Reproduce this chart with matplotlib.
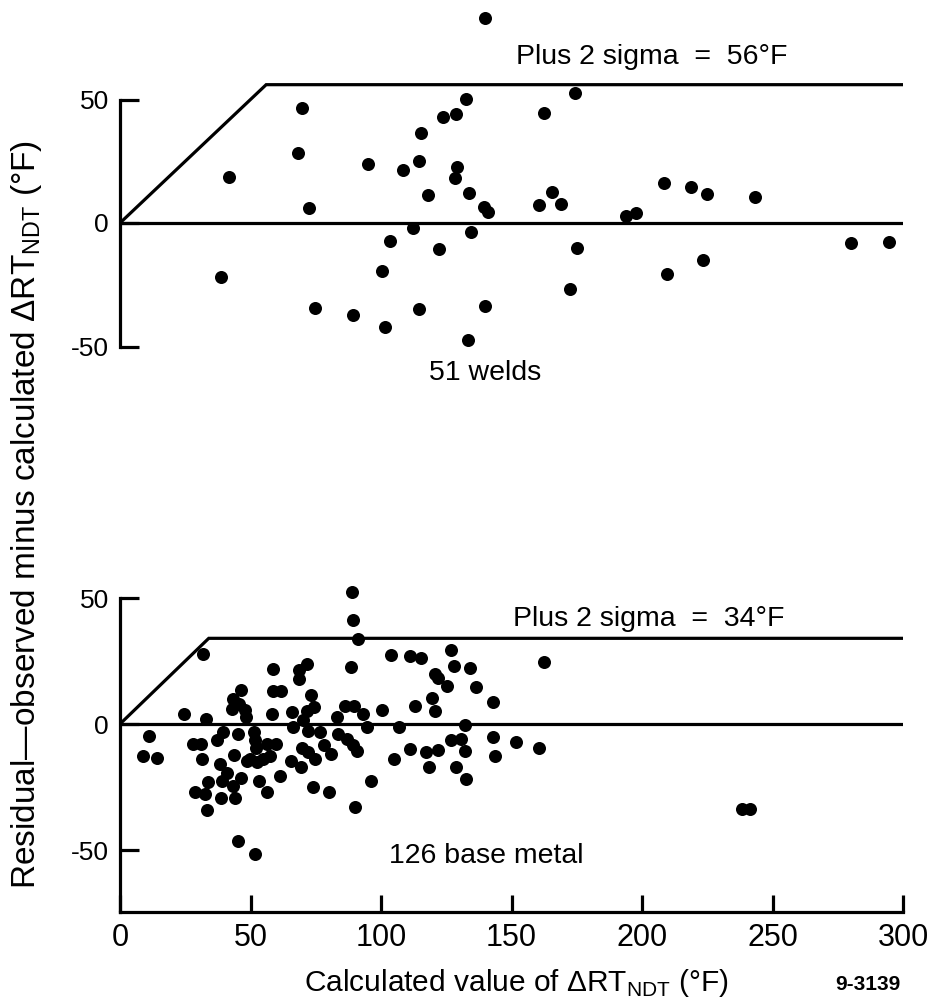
import matplotlib
matplotlib.use("Agg")
import matplotlib.pyplot as plt
from matplotlib import font_manager

# ---------------- data ----------------
# Top panel: 51 welds
weld_x = [139.8, 69.7, 132.6, 128.7, 123.7, 115.2, 68.2, 41.8, 95.0, 108.4,
          114.6, 129.1, 128.4, 118.0, 133.7, 72.4, 139.5, 141.0, 112.3, 134.5,
          103.4, 122.2, 100.4, 38.7, 74.7, 89.3, 114.6, 139.8, 101.5, 133.3,
          174.3, 162.5, 208.4, 218.8, 224.9, 243.3, 160.5, 165.5, 169.0, 193.9,
          197.7, 175.1, 223.4, 209.6, 172.4, 280.1, 294.6]
weld_y = [83.0, 46.6, 50.2, 44.1, 42.9, 36.4, 28.3, 18.6, 23.9, 21.5,
          25.1, 22.7, 18.2, 11.3, 12.1, 6.1, 6.5, 4.5, -2.0, -3.6,
          -7.3, -10.5, -19.4, -22.0, -34.6, -37.2, -34.9, -33.6, -42.1, -47.4,
          52.6, 44.5, 16.2, 14.6, 11.7, 10.5, 7.3, 12.6, 7.7, 2.8,
          4.0, -10.1, -15.0, -20.6, -26.7, -8.2, -7.5]

# Bottom panel: 126 base metal
base_x = [11.1, 9.0, 14.1,
          24.5, 31.9, 33.0,
          28.1, 31.0, 31.3, 33.8, 28.7, 32.6, 33.2,
          37.0, 39.5, 38.3, 40.9, 39.0, 38.6,
          42.8, 43.4, 46.3, 45.5, 48.0, 48.3, 45.3, 43.6, 46.5, 43.4, 44.1, 48.5, 45.3,
          51.5, 51.7, 52.0, 49.8, 52.4, 54.9, 53.3, 56.5, 51.7, 56.5, 57.5,
          58.7, 58.7, 61.5, 58.1, 59.7, 61.3,
          66.0, 66.4, 68.5, 71.8, 68.7, 65.5, 69.3, 69.6, 70.3,
          73.1, 71.5, 74.4, 72.1, 76.6, 72.2, 74.8, 74.1,
          78.2, 80.8, 80.0,
          83.0, 83.6, 86.9, 89.1, 90.7, 86.2, 89.7, 93.1, 94.8, 88.8, 89.2, 91.3, 88.6, 96.3, 90.0,
          100.2, 103.9, 104.8, 106.9,
          111.1, 115.4, 112.9, 111.1, 117.2, 121.8, 118.4, 120.6, 122.0, 125.1, 119.5, 120.5,
          127.0, 128.1, 134.0, 136.5, 132.1, 126.9, 130.5, 132.2, 128.7, 132.6,
          143.0, 143.0, 143.6, 151.7, 160.5, 162.6, 238.5, 241.5]
base_y = [-4.6, -12.5, -13.3,
          4.0, 27.8, 2.0,
          -7.9, -7.9, -13.9, -23.1, -26.9, -27.8, -34.0,
          -6.3, -3.0, -15.9, -19.5, -22.5, -29.3,
          6.0, 9.9, 13.5, 8.0, 5.5, 2.8, -4.0, -12.3, -21.5, -24.5, -29.4, -14.5, -46.6,
          -3.0, -6.5, -9.5, -13.9, -15.0, -13.9, -22.5, -26.8, -51.6, -7.9, -12.6,
          21.8, 13.2, 13.2, 4.0, -7.9, -20.5,
          4.8, -1.3, 21.5, 23.8, 17.9, -14.5, -17.0, -9.6, 1.6,
          11.6, 5.3, 6.6, -2.6, -3.3, -11.2, -13.9, -25.1,
          -8.2, -12.0, -27.1,
          2.6, -4.0, -6.0, -8.2, -10.6, 7.3, 7.1, 4.0, -1.3, 52.3, 41.1, 33.8, 22.5, -22.5, -33.1,
          5.4, 27.2, -13.9, -1.0,
          27.1, 26.2, 7.3, -9.9, -11.1, -10.4, -17.2, 19.8, 18.1, 15.0, 10.2, 5.1,
          29.4, 23.1, 22.1, 14.6, -0.3, -6.3, -6.1, -10.9, -17.2, -21.7,
          8.9, -5.3, -12.6, -7.3, -9.5, 24.7, -33.8, -33.8]

# envelope lines (plus 2 sigma) and zero lines
weld_sigma = 56
base_sigma = 34
x_max = 300
xticks = [0, 50, 100, 150, 200, 250, 300]
yticks = [-50, 0, 50]

# ---------------- fonts ----------------
names = {f.name for f in font_manager.fontManager.ttflist}
FONT = "Liberation Sans" if "Liberation Sans" in names else "DejaVu Sans"
plt.rcParams["font.family"] = [FONT, "DejaVu Sans"]
plt.rcParams["mathtext.fontset"] = "custom"
plt.rcParams["mathtext.rm"] = FONT

W, H = 928, 1001
fig = plt.figure(figsize=(W / 100, H / 100), dpi=100)

def frac_box(left_px, right_px, top_px, bottom_px):
    return [left_px / W, 1 - bottom_px / H, (right_px - left_px) / W, (bottom_px - top_px) / H]

LW = 2.3
ms_area = 88

# ---------------- top panel ----------------
ax1 = fig.add_axes(frac_box(120, 903, 223 - 90 * 2.47, 223 + 70 * 2.47))
ax1.set_xlim(0, x_max)
ax1.set_ylim(-70, 90)
for s in ["top", "right", "bottom"]:
    ax1.spines[s].set_visible(False)
ax1.spines["left"].set_bounds(-50, 50)
ax1.spines["left"].set_linewidth(LW)
ax1.set_xticks([])
ax1.set_yticks(yticks)
ax1.set_yticklabels([str(t) for t in yticks])
ax1.tick_params(axis="y", direction="in", length=14, width=LW, labelsize=19, pad=8)
ax1.plot([0, weld_sigma, x_max], [0, weld_sigma, weld_sigma], color="black", lw=LW, solid_joinstyle="miter")
ax1.plot([0, x_max], [0, 0], color="black", lw=LW)
ax1.scatter(weld_x, weld_y, s=ms_area, color="black", zorder=3, clip_on=False, linewidths=0)
ax1.text(203.8, 67.2, "Plus 2 sigma  =  56°F", fontsize=20.5, ha="center", va="center")
ax1.text(139.8, -60.7, "51 welds", fontsize=20.5, ha="center", va="center")
ax1.patch.set_visible(False)

# ---------------- bottom panel ----------------
ax2 = fig.add_axes(frac_box(120, 903, 724 - 58 * 2.52, 724 + 74.5 * 2.52))
ax2.set_xlim(0, x_max)
ax2.set_ylim(-74.5, 58)
for s in ["top", "right"]:
    ax2.spines[s].set_visible(False)
ax2.spines["left"].set_bounds(-74.5, 50)
ax2.spines["left"].set_linewidth(LW)
ax2.spines["bottom"].set_linewidth(LW)
ax2.set_xticks(xticks)
ax2.set_yticks(yticks)
ax2.set_yticklabels([str(t) for t in yticks])
ax2.tick_params(axis="y", direction="in", length=14, width=LW, labelsize=19, pad=8)
ax2.tick_params(axis="x", direction="in", length=12, width=LW, labelsize=22, pad=8)
ax2.plot([0, base_sigma, x_max], [0, base_sigma, base_sigma], color="black", lw=LW, solid_joinstyle="miter")
ax2.plot([0, x_max], [0, 0], color="black", lw=LW)
ax2.scatter(base_x, base_y, s=ms_area, color="black", zorder=3, clip_on=False, linewidths=0)
ax2.text(202.5, 41.7, "Plus 2 sigma  =  34°F", fontsize=20.5, ha="center", va="center")
ax2.text(140.2, -52.4, "126 base metal", fontsize=20.5, ha="center", va="center")
ax2.patch.set_visible(False)

# ---------------- labels ----------------
fig.text(516 / W, 1 - 983 / H, "Calculated value of ΔRT$_\\mathregular{NDT}$ (°F)",
         fontsize=21.5, ha="center", va="center")
fig.text(27 / W, 1 - 515 / H, "Residual—observed minus calculated ΔRT$_\\mathregular{NDT}$ (°F)",
         fontsize=24, ha="center", va="center", rotation=90)
fig.text(868 / W, 1 - 985 / H, "9-3139", fontsize=15, fontweight="bold", ha="center", va="center")

fig.savefig("out.png", dpi=100)
